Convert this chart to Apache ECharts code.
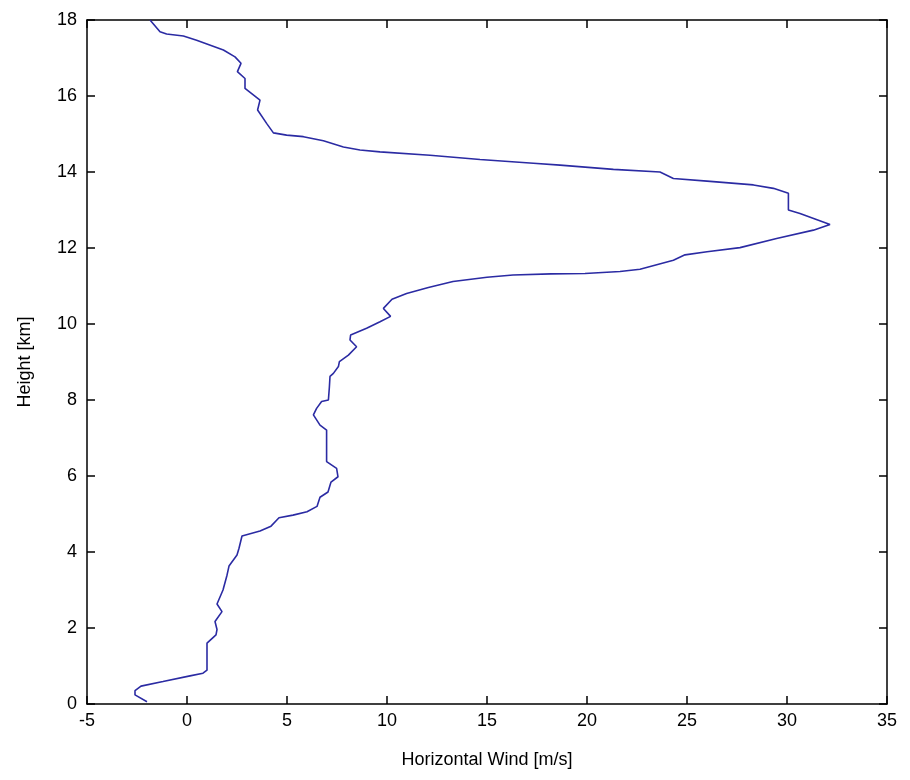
<!DOCTYPE html>
<html>
<head>
<meta charset="utf-8">
<title>Horizontal wind profile</title>
<script src="https://cdn.jsdelivr.net/npm/echarts@6/dist/echarts.min.js"></script>
<style>
  html, body { margin: 0; padding: 0; background: #fff; }
  #chart { width: 910px; height: 780px; }
</style>
</head>
<body>
<div id="chart"></div>
<script>
// wind profile (bottom to top)
const windSpeed = [
  -2.0, -2.6, -2.6, -2.3, -1.2, 0.15, 0.8, 1.0, 1.0, 1.45, 1.5, 1.4, 1.75, 1.5, 1.8,
  2.0, 2.1, 2.5, 2.6, 2.75, 3.65, 4.2, 4.6, 5.3, 6.0, 6.5, 6.65, 7.05, 7.2, 7.55,
  7.48, 6.98, 6.98, 6.65, 6.32, 6.48, 6.73, 7.07, 7.12, 7.15, 7.32, 7.57, 7.62, 8.07,
  8.48, 8.15, 8.18, 8.98, 9.65, 10.18, 9.82, 10.25, 10.98, 12.07, 13.3, 15.0, 16.3,
  18.2, 19.9, 21.65, 22.65, 24.32, 24.9, 26.0, 27.65, 29.48, 31.32, 32.15, 30.65,
  30.07, 30.07, 29.32, 28.32, 26.0, 24.32, 23.65, 21.32, 18.65, 17.32, 14.65, 12.15,
  9.65, 8.65, 7.82, 6.82, 5.82, 4.98, 4.32, 3.98, 3.53, 3.65, 2.9, 2.9, 2.52, 2.7,
  2.4, 1.82, 0.48, -0.18, -1.02, -1.35, -1.85
]
const heightKm = [
  0.06, 0.24, 0.35, 0.47, 0.59, 0.74, 0.81, 0.89, 1.6, 1.82, 1.96, 2.17, 2.43, 2.63, 3.0,
  3.39, 3.63, 3.92, 4.1, 4.42, 4.55, 4.68, 4.9, 4.97, 5.06, 5.2, 5.44, 5.58, 5.84, 5.98,
  6.2, 6.38, 7.21, 7.34, 7.61, 7.78, 7.96, 8.0, 8.35, 8.62, 8.7, 8.88, 9.01, 9.18,
  9.4, 9.58, 9.71, 9.89, 10.06, 10.2, 10.41, 10.65, 10.8, 10.96, 11.12, 11.23, 11.29,
  11.32, 11.33, 11.38, 11.44, 11.68, 11.82, 11.9, 12.01, 12.25, 12.47, 12.62, 12.91,
  13.0, 13.44, 13.57, 13.66, 13.76, 13.83, 14.0, 14.07, 14.18, 14.23, 14.33, 14.44,
  14.53, 14.58, 14.66, 14.82, 14.93, 14.97, 15.03, 15.28, 15.63, 15.89, 16.2, 16.46, 16.64, 16.86,
  17.03, 17.21, 17.47, 17.58, 17.63, 17.69, 18.0
]

const xTicks = { min: -5, max: 35, step: 5 }
const yTicks = { min: 0, max: 18, step: 2 }

const chart = echarts.init(document.getElementById('chart'))

const axisFont = { color: '#000', fontSize: 18, fontFamily: 'Liberation Sans Narrow, Liberation Sans, Arial, sans-serif' }
const boxLine = { show: true, onZero: false, lineStyle: { color: '#000', width: 1.5 } }
const innerTick = { show: true, inside: true, length: 8, lineStyle: { color: '#000', width: 1.5 } }

// MATLAB-style box: ticks inside on all four sides
const option = {
  backgroundColor: '#fff',
  animation: false,
  grid: { left: 87, right: 23, top: 20, bottom: 76 },
  xAxis: [
    {
      type: 'value',
      min: xTicks.min, max: xTicks.max, interval: xTicks.step,
      name: 'Horizontal Wind [m/s]',
      nameLocation: 'middle',
      nameGap: 47,
      nameTextStyle: axisFont,
      axisLine: boxLine,
      axisTick: innerTick,
      axisLabel: { ...axisFont, margin: 8 },
      splitLine: { show: false }
    },
    {
      type: 'value',
      position: 'top',
      min: xTicks.min, max: xTicks.max, interval: xTicks.step,
      axisLine: boxLine,
      axisTick: innerTick,
      axisLabel: { show: false },
      splitLine: { show: false }
    }
  ],
  yAxis: [
    {
      type: 'value',
      min: yTicks.min, max: yTicks.max, interval: yTicks.step,
      name: 'Height [km]',
      nameLocation: 'middle',
      nameGap: 53,
      nameTextStyle: axisFont,
      axisLine: boxLine,
      axisTick: innerTick,
      axisLabel: { ...axisFont, margin: 10 },
      splitLine: { show: false }
    },
    {
      type: 'value',
      position: 'right',
      min: yTicks.min, max: yTicks.max, interval: yTicks.step,
      axisLine: boxLine,
      axisTick: innerTick,
      axisLabel: { show: false },
      splitLine: { show: false }
    }
  ],
  series: [
    {
      type: 'line',
      data: windSpeed.map((w, i) => [w, heightKm[i]]),
      showSymbol: false,
      smooth: false,
      clip: true,
      lineStyle: { color: '#2b2ba3', width: 1.6 }
    }
  ]
}

chart.setOption(option)
</script>
</body>
</html>
